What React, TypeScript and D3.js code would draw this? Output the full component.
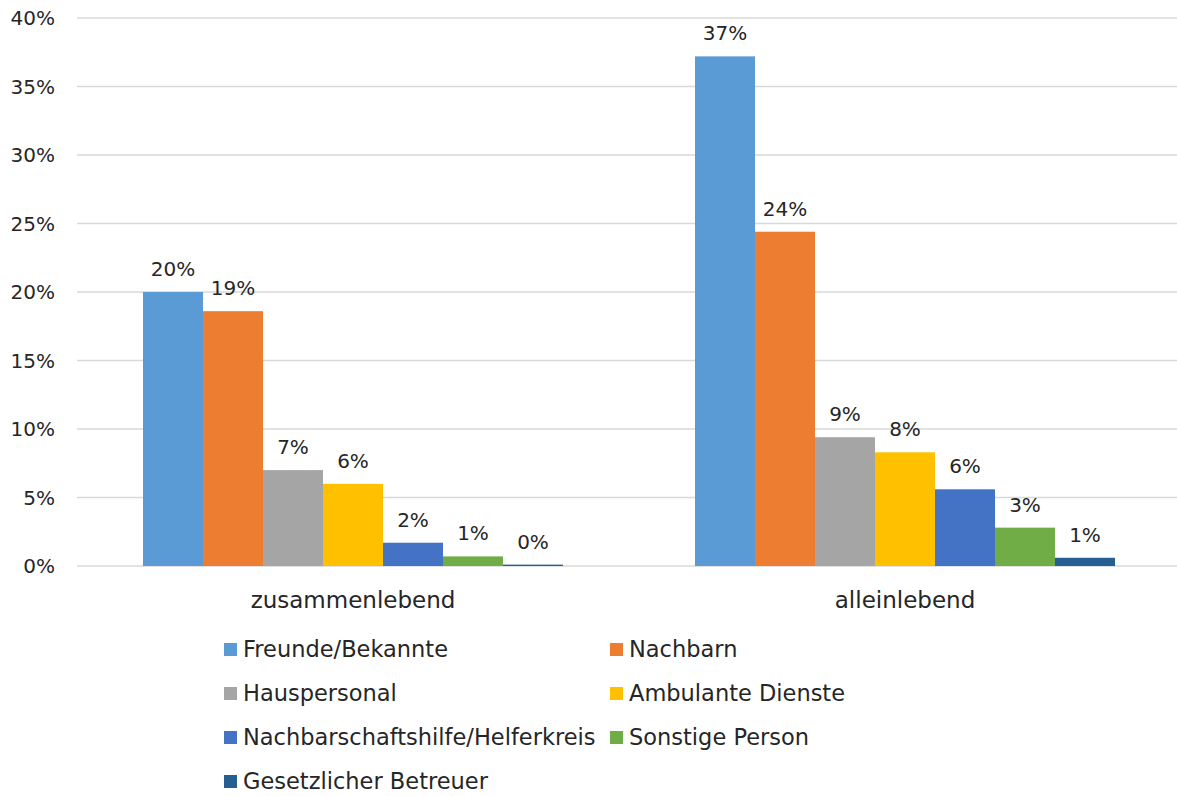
import React from "react";
import * as d3 from "d3";

const categories = ["zusammenlebend", "alleinlebend"];
const seriesNames = [
  "Freunde/Bekannte",
  "Nachbarn",
  "Hauspersonal",
  "Ambulante Dienste",
  "Nachbarschaftshilfe/Helferkreis",
  "Sonstige Person",
  "Gesetzlicher Betreuer",
];
const seriesColors = ["#5B9BD5", "#ED7D31", "#A5A5A5", "#FFC000", "#4472C4", "#70AD47", "#255E91"];
const zusammenlebend = [20.0, 18.6, 7.0, 6.0, 1.7, 0.7, 0.1];
const alleinlebend = [37.2, 24.4, 9.4, 8.3, 5.6, 2.8, 0.6];
const valuesByCategory = [zusammenlebend, alleinlebend];
const yTicks = [0, 5, 10, 15, 20, 25, 30, 35, 40];

const W = 1177;
const H = 796;
const FONT = "'DejaVu Sans', 'Open Sans', sans-serif";
const FS = 20;

export default function App() {
  const left = 77;
  const right = 1181;
  const top = 18;
  const bottom = 566;

  const x0 = d3.scaleBand<string>().domain(categories).range([left, right]).paddingInner(0).paddingOuter(0);
  const groupPad = 66;
  const x1 = d3
    .scaleBand<string>()
    .domain(seriesNames)
    .range([0, x0.bandwidth() - 2 * groupPad])
    .padding(0);
  const y = d3.scaleLinear().domain([0, 40]).range([bottom, top]);

  const legendCols = [224, 610];
  const legendRows = [649, 693, 737, 781];

  return (
    <svg
      width={W}
      height={H}
      style={{ position: "absolute", left: 0, top: 0, background: "#fff" }}
      fontFamily={FONT}
    >
      <rect x={0} y={0} width={W} height={H} fill="#fff" />
      {yTicks.map((t) => (
        <g key={t}>
          <line x1={left} x2={W} y1={y(t)} y2={y(t)} stroke="#D9D9D9" strokeWidth={1.5} />
          <text x={55} y={y(t)} dy="0.35em" textAnchor="end" fontSize={FS} fill="#262626">
            {t}%
          </text>
        </g>
      ))}
      {categories.map((c, ci) => (
        <g key={c} transform={`translate(${(x0(c) as number) + groupPad},0)`}>
          {seriesNames.map((s, si) => {
            const v = valuesByCategory[ci][si];
            const bx = x1(s) as number;
            return (
              <g key={s}>
                <rect x={bx} y={y(v)} width={x1.bandwidth()} height={bottom - y(v)} fill={seriesColors[si]} />
                <text
                  x={bx + x1.bandwidth() / 2}
                  y={y(v) - 16}
                  textAnchor="middle"
                  fontSize={FS}
                  fill="#262626"
                >
                  {Math.round(v)}%
                </text>
              </g>
            );
          })}
        </g>
      ))}
      {categories.map((c) => (
        <text
          key={c}
          x={(x0(c) as number) + x0.bandwidth() / 2}
          y={600}
          dy="0.35em"
          textAnchor="middle"
          fontSize={23}
          fill="#262626"
        >
          {c}
        </text>
      ))}
      {seriesNames.map((s, i) => {
        const cx = legendCols[i % 2];
        const cy = legendRows[Math.floor(i / 2)];
        return (
          <g key={s}>
            <rect x={cx} y={cy - 6} width={13} height={13} fill={seriesColors[i]} />
            <text x={cx + 19} y={cy} dy="0.35em" fontSize={22.5} fill="#262626">
              {s}
            </text>
          </g>
        );
      })}
    </svg>
  );
}
